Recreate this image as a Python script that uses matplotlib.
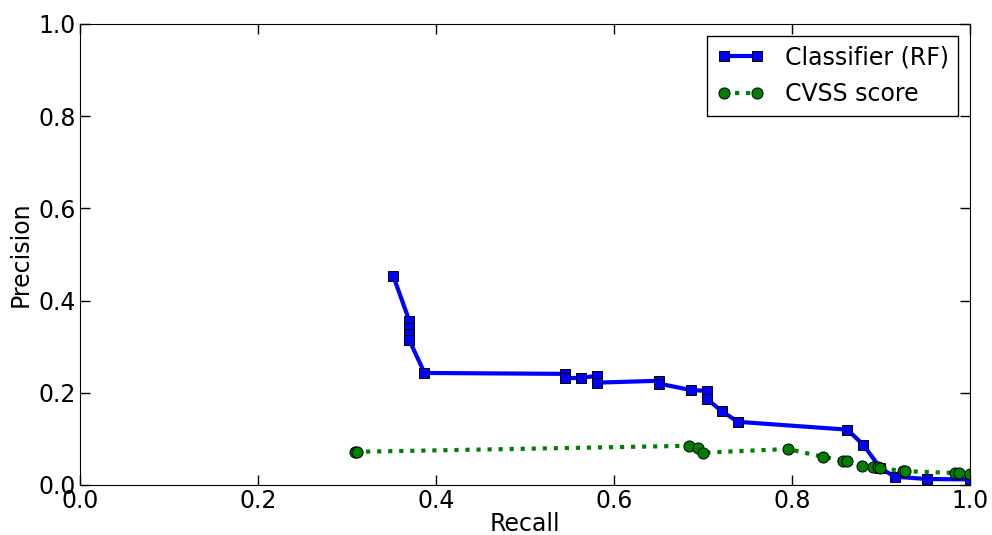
import matplotlib
matplotlib.use("Agg")
import matplotlib.pyplot as plt

rf_recall = [0.352, 0.370, 0.370, 0.370, 0.370, 0.387, 0.545, 0.545, 0.563, 0.581, 0.581,
             0.650, 0.650, 0.686, 0.704, 0.704, 0.721, 0.739, 0.862, 0.880, 0.899,
             0.915, 0.951, 1.000]
rf_precision = [0.453, 0.356, 0.340, 0.327, 0.314, 0.243, 0.241, 0.232, 0.232, 0.237, 0.222,
                0.226, 0.220, 0.206, 0.204, 0.187, 0.160, 0.137, 0.120, 0.087, 0.037,
                0.018, 0.013, 0.012]

cvss_recall = [0.309, 0.311, 0.684, 0.694, 0.700, 0.795, 0.835, 0.857, 0.862, 0.879,
               0.891, 0.896, 0.899, 0.924, 0.927, 0.983, 0.987, 1.000]
cvss_precision = [0.072, 0.072, 0.085, 0.080, 0.070, 0.078, 0.061, 0.053, 0.052, 0.041,
                  0.039, 0.038, 0.037, 0.030, 0.030, 0.026, 0.025, 0.024]

fig = plt.figure(figsize=(9.92, 5.35), dpi=100)
ax = fig.add_axes([0.0806, 0.0935, 0.8974, 0.8617])

ax.plot(rf_recall, rf_precision, color='blue', linestyle='-', linewidth=3,
        marker='s', markersize=7.5, markeredgecolor='black', markeredgewidth=0.7,
        label='Classifier (RF)')
ax.plot(cvss_recall, cvss_precision, color='green', linestyle=':', linewidth=3,
        marker='o', markersize=8, markeredgecolor='black', markeredgewidth=0.7,
        label='CVSS score')

ax.set_xlim(0, 1)
ax.set_ylim(0, 1)
ax.set_xticks([0.0, 0.2, 0.4, 0.6, 0.8, 1.0])
ax.set_yticks([0.0, 0.2, 0.4, 0.6, 0.8, 1.0])
ax.tick_params(direction='in', top=True, right=True, length=7, width=1, labelsize=17, pad=3)
ax.set_xlabel('Recall', fontsize=17, labelpad=-1)
ax.set_ylabel('Precision', fontsize=17, labelpad=4)

leg = ax.legend(loc='upper right', fontsize=17, numpoints=2, fancybox=False,
                framealpha=1, edgecolor='black', handlelength=2.0, handletextpad=0.9,
                borderpad=0.4, labelspacing=0.55, borderaxespad=0.5)
leg.get_frame().set_linewidth(1)

fig.savefig('out.png', dpi=100)
